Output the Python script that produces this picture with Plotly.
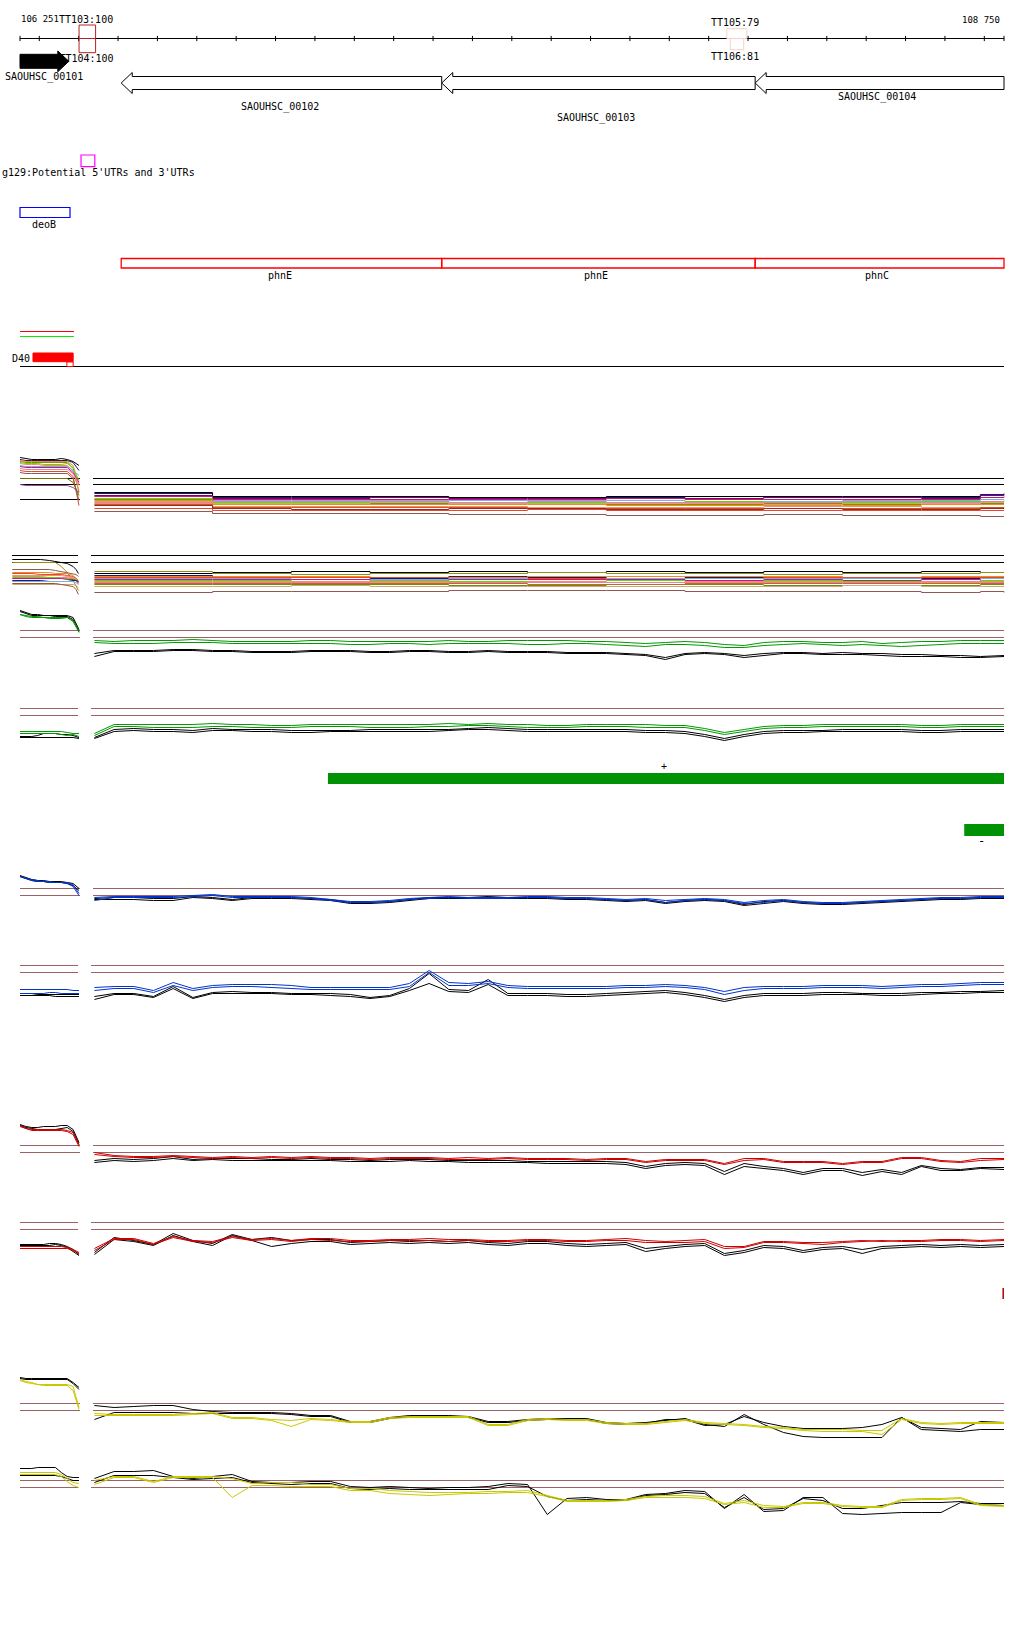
import plotly.graph_objects as go

W, H = 1024, 1640
FONT = "DejaVu Sans Mono"

# ---------------- genome view ----------------
VIEW_START = 106251
VIEW_END = 108750
TICKS = [106251] + list(range(106300, 108701, 100)) + [108750]
START_LABEL = "106 251"
END_LABEL = "108 750"

GENE_NAMES = ["SAOUHSC_00101", "SAOUHSC_00102", "SAOUHSC_00103", "SAOUHSC_00104"]
GENE_START = [106251, 106508, 107322, 108118]
GENE_END = [106375, 107322, 108118, 108750]
GENE_STRAND = ["+", "-", "-", "-"]
GENE_LABEL_POS = [106313, 106911, 107714, 108427]
GENE_LABEL_ROW = [77, 107, 118, 97]

TERM_NAMES = ["TT103:100", "TT104:100", "TT105:79", "TT106:81"]
TERM_START = [106401, 106401, 108046, 108055]
TERM_END = [106443, 106443, 108097, 108089]
TERM_COLORS = ["#b22222", "#b22222", "#f5d2c6", "#f5d2c6"]

UTR_LABEL = "g129:Potential 5'UTRs and 3'UTRs"
UTR_START, UTR_END = 106406, 106441

OPERON_NAME = "deoB"
OPERON_START, OPERON_END = 106251, 106378

PHN_NAMES = ["phnE", "phnE", "phnC"]
PHN_START = [106508, 107322, 108118]
PHN_END = [107322, 108118, 108750]
PHN_LABEL_POS = [106911, 107714, 108427]

SHORT_LINE_START, SHORT_LINE_END = 106251, 106388
D40_LABEL = "D40"
D40_START, D40_END = 106284, 106386
D40_BOX_START = 106370

PLUS_START, PLUS_END = 107033, 108750
MINUS_START, MINUS_END = 108649, 108750
MARK_POS = 108748

# ---------------- expression tracks ----------------
MAIN_POS = list(range(106440, 108701, 50)) + [108750]
COARSE_POS = [106440, 106740, 106940, 107140, 107340, 107540, 107740, 107940,
              108140, 108340, 108540, 108690, 108750]
LEFT_POS = list(range(11))
LEFT_POS_P2 = [-1.3, 0.5, 2, 3.5, 5, 6, 7, 8, 9, 9.5, 9.9]

P1_MAIN_COLORS = ["#1a1a70", "#000000", "#800080", "#c8187c", "#6ab4e8", "#66d800",
                  "#8c8c00", "#f08c1e", "#c8aa78", "#f07ca0", "#f0906c", "#c05c20",
                  "#e04830", "#8c5a50", "#a82020"]
P1_MAIN = [
    [27, 23, 23, 23, 23, 23, 23, 24, 23, 23, 23, 26, 27],
    [28, 24, 24, 24, 23, 23, 24, 24, 24, 24, 24, 25, 25],
    [25, 22, 22, 23, 22, 22, 22, 22, 23, 23, 22, 25, 26],
    [24, 21, 21, 21, 21, 21, 22, 21, 21, 21, 21, 23, 24],
    [21, 20, 20, 20, 20, 20, 20, 19, 19, 20, 20, 21, 21],
    [22, 18, 18, 19, 18, 18, 18, 19, 18, 18, 19, 19, 20],
    [21, 17, 17, 17, 17, 17, 16, 16, 17, 16, 16, 17, 17],
    [20, 16, 16, 16, 16, 16, 15, 15, 15, 15, 16, 16, 16],
    [19, 17, 17, 18, 17, 17, 17, 17, 16, 17, 17, 18, 18],
    [18, 19, 19, 19, 18, 19, 18, 18, 18, 19, 18, 19, 19],
    [17, 14, 14, 14, 14, 13, 13, 13, 14, 14, 13, 13, 14],
    [16, 13, 13, 13, 13, 12, 12, 12, 12, 12, 12, 13, 13],
    [12, 10, 10, 10, 10, 11, 10, 10, 10, 10, 10, 10, 10],
    [9, 7, 7, 7, 6, 6, 5, 5, 6, 5, 5, 4, 4],
    [15, 12, 11, 11, 12, 12, 11, 11, 12, 11, 11, 12, 12],
]
P1_LEFT_COLORS = ["#000000", "#1a1a70", "#f08c1e", "#8c8c00", "#66d800", "#f0906c",
                  "#6ab4e8", "#c8187c", "#f07ca0", "#e04830", "#8c5a50", "#a040a0", "#707000"]
P1_LEFT = [
    [63, 62, 61, 61, 61, 61, 61, 62, 61, 59, 55],
    [61, 60, 60, 60, 60, 60, 60, 60, 60, 58, 50],
    [60, 59, 59, 59, 59, 59, 59, 59, 59, 55, 35],
    [59, 58, 58, 58, 58, 58, 58, 58, 58, 52, 28],
    [58, 57, 57, 57, 56, 56, 56, 56, 57, 53, 40],
    [57, 56, 56, 56, 55, 55, 55, 55, 55, 50, 30],
    [55, 54, 54, 54, 54, 54, 54, 54, 54, 50, 45],
    [54, 53, 53, 53, 53, 53, 53, 53, 53, 48, 38],
    [52, 51, 51, 51, 51, 51, 51, 51, 51, 47, 36],
    [50, 49, 49, 49, 49, 49, 49, 49, 49, 44, 15],
    [48, 47, 47, 47, 47, 47, 47, 47, 47, 42, 20],
    [36, 35, 35, 35, 35, 35, 35, 35, 35, 33, 28],
    [42, 42, 42, 42, 42, 42, 42, 42, 42, 38, 25],
]
P1_THRESH = [42, 36]
P1_LEFT_THRESH = [42, 36, 21]

P2_MAIN_COLORS = ["#000000", "#9a8a10", "#1a1a70", "#f08c1e", "#e04830", "#6ab4e8",
                  "#c8187c", "#66d800", "#f0906c", "#f07ca0", "#7a8a00", "#b86a30",
                  "#c8aa78", "#8c5a50"]
P2_MAIN = [
    [27, 28, 29, 28, 29, 28, 29, 28, 29, 28, 29, 28, 28],
    [29, 27, 26, 27, 27, 28, 27, 27, 26, 27, 27, 28, 28],
    [25, 23, 23, 22, 24, 23, 22, 23, 22, 22, 22, 23, 23],
    [24, 24, 24, 23, 23, 24, 24, 24, 24, 23, 24, 24, 24],
    [23, 23, 23, 23, 22, 22, 22, 22, 23, 23, 23, 23, 23],
    [22, 22, 21, 21, 22, 21, 22, 22, 22, 22, 21, 22, 22],
    [21, 21, 21, 20, 21, 21, 21, 20, 21, 20, 21, 20, 20],
    [20, 20, 19, 20, 19, 19, 20, 19, 20, 19, 19, 20, 20],
    [19, 19, 19, 18, 18, 19, 18, 18, 19, 18, 18, 19, 19],
    [18, 18, 18, 19, 18, 18, 18, 19, 18, 18, 19, 18, 18],
    [16, 16, 16, 16, 15, 15, 16, 16, 15, 15, 15, 16, 16],
    [17, 17, 17, 17, 17, 16, 16, 17, 17, 17, 17, 17, 17],
    [14, 14, 15, 14, 14, 14, 14, 14, 14, 15, 14, 14, 14],
    [8, 9, 9, 9, 10, 10, 10, 9, 9, 9, 8, 9, 8],
]
P2_LEFT_COLORS = ["#000000", "#9a8a10", "#8c5a50", "#f08c1e", "#e04830", "#f0906c",
                  "#f07ca0", "#66d800", "#c8187c", "#1a1a70", "#6ab4e8", "#c8aa78", "#a0522d"]
P2_LEFT = [
    [41, 41, 41, 41, 40, 39, 38, 37, 34, 31, 27],
    [38, 38, 38, 38, 38, 38, 34, 28, 20, 14, 10],
    [31, 31, 31, 31, 31, 30, 29, 28, 27, 26, 24],
    [28, 28, 28, 28, 28, 27, 27, 27, 25, 22, 18],
    [27, 27, 27, 26, 26, 26, 26, 25, 24, 22, 20],
    [25, 25, 25, 25, 25, 25, 25, 24, 23, 20, 16],
    [24, 24, 24, 24, 23, 23, 23, 23, 22, 20, 17],
    [23, 23, 23, 23, 23, 23, 22, 22, 22, 21, 19],
    [22, 22, 22, 22, 22, 22, 22, 21, 21, 20, 18],
    [20, 20, 20, 20, 19, 19, 19, 19, 20, 20, 19],
    [19, 19, 19, 19, 19, 19, 19, 19, 19, 18, 16],
    [16, 16, 16, 16, 16, 16, 16, 16, 16, 15, 13],
    [17, 17, 17, 17, 17, 17, 16, 15, 14, 11, 6],
]
P2_THRESH = [45, 38]

# green pair of tracks
P3_THRESH = [40, 33]
P3_LEFT_G1 = [56, 55, 54, 54, 53, 53, 53, 53, 53, 50, 40]
P3_LEFT_G2 = [56, 54, 53, 53, 53, 52, 52, 52, 53, 49, 38]
P3_LEFT_B1 = [60, 58, 56, 56, 55, 55, 55, 55, 55, 53, 41]
P3_LEFT_B2 = [59, 57, 55, 55, 55, 55, 54, 54, 54, 51, 39]
P3_G1 = [30, 29, 30, 30, 30, 31, 30, 29, 29, 29, 29, 30, 30, 29, 29, 29, 29, 29, 30, 29,
         29, 30, 30, 30, 30, 29, 29, 28, 27, 28, 29, 28, 26, 25, 28, 29, 29, 28, 28, 29,
         27, 28, 29, 29, 30, 30, 30]
P3_G2 = [28, 27, 27, 27, 28, 28, 28, 27, 27, 27, 27, 27, 27, 26, 26, 27, 27, 26, 27, 27,
         27, 27, 26, 26, 27, 27, 26, 25, 24, 26, 26, 25, 23, 23, 25, 26, 27, 26, 25, 26,
         25, 24, 25, 26, 27, 27, 27]
P3_B1 = [17, 20, 20, 20, 21, 21, 20, 20, 19, 19, 19, 20, 20, 20, 19, 19, 20, 20, 19, 19,
         20, 19, 19, 19, 18, 18, 18, 17, 16, 13, 17, 18, 17, 15, 17, 18, 18, 17, 18, 17,
         17, 16, 16, 15, 15, 14, 15]
P3_B2 = [14, 19, 19, 19, 20, 20, 19, 19, 18, 18, 18, 19, 19, 19, 18, 18, 19, 19, 18, 18,
         19, 18, 18, 18, 17, 17, 17, 16, 15, 11, 16, 17, 16, 13, 15, 17, 17, 16, 16, 16,
         15, 14, 14, 14, 13, 13, 14]

P4_THRESH = [42, 35]
P4_LEFT_G1 = [19, 19, 19, 19, 19, 19, 19, 19, 18, 17, 17]
P4_LEFT_G2 = [17, 17, 17, 17, 17, 17, 17, 16, 15, 16, 14]
P4_LEFT_B1 = [14, 14, 14, 15, 17, 17, 17, 16, 16, 15, 13]
P4_LEFT_B2 = [13, 13, 13, 13, 13, 13, 13, 13, 13, 13, 12]
P4_G1 = [17, 26, 26, 26, 26, 26, 27, 26, 26, 25, 25, 26, 26, 26, 26, 26, 26, 26, 27, 26,
         27, 26, 26, 25, 25, 26, 26, 26, 26, 25, 25, 22, 18, 21, 24, 25, 25, 26, 26, 26,
         26, 26, 25, 25, 26, 26, 26]
P4_G2 = [15, 24, 24, 23, 23, 23, 24, 24, 23, 23, 23, 24, 24, 24, 23, 23, 23, 24, 24, 25,
         25, 24, 23, 23, 23, 24, 24, 24, 23, 23, 23, 20, 16, 19, 22, 23, 23, 24, 24, 24,
         24, 24, 23, 23, 24, 24, 24]
P4_B1 = [13, 21, 22, 21, 21, 20, 22, 21, 21, 21, 20, 20, 20, 20, 21, 21, 21, 21, 21, 22,
         23, 22, 21, 21, 21, 21, 21, 21, 20, 20, 19, 16, 12, 16, 19, 20, 20, 20, 21, 21,
         21, 21, 20, 20, 21, 21, 21]
P4_B2 = [12, 19, 20, 19, 19, 18, 20, 20, 19, 19, 18, 18, 19, 19, 19, 19, 19, 19, 20, 21,
         21, 20, 19, 19, 19, 19, 19, 19, 18, 18, 17, 14, 10, 14, 17, 18, 18, 19, 19, 19,
         19, 19, 18, 18, 19, 19, 19]

# blue pair of tracks
P5_THRESH = [27, 20]
P5_LEFT_C1 = [39, 37, 36, 35, 34, 34, 33, 33, 33, 31, 22]
P5_LEFT_C2 = [39, 37, 35, 34, 34, 33, 33, 33, 32, 29, 20]
P5_LEFT_B1 = [40, 38, 36, 35, 35, 34, 34, 34, 33, 32, 27]
P5_LEFT_B2 = [39, 37, 35, 34, 34, 33, 33, 33, 32, 30, 25]
P5_C1 = [18, 19, 19, 19, 19, 20, 21, 19, 19, 19, 19, 18, 16, 14, 14, 15, 17, 18, 19, 18,
         18, 18, 19, 19, 18, 18, 17, 16, 17, 15, 16, 17, 16, 13, 15, 16, 14, 13, 13, 14,
         15, 16, 17, 18, 18, 19, 19]
P5_C2 = [15, 18, 18, 18, 18, 19, 20, 18, 18, 18, 18, 17, 15, 13, 13, 14, 16, 17, 18, 17,
         17, 17, 18, 18, 17, 17, 16, 15, 16, 13, 15, 16, 15, 12, 13, 15, 13, 12, 12, 13,
         14, 15, 16, 17, 17, 18, 18]
P5_B1 = [17, 18, 18, 17, 17, 19, 18, 16, 18, 18, 18, 17, 16, 13, 13, 14, 16, 18, 18, 18,
         19, 18, 18, 18, 17, 17, 16, 15, 16, 13, 15, 16, 15, 11, 14, 15, 13, 12, 12, 13,
         14, 15, 16, 17, 17, 18, 18]
P5_B2 = [16, 16, 16, 15, 15, 18, 17, 15, 17, 17, 17, 16, 15, 12, 12, 13, 15, 17, 17, 17,
         18, 17, 17, 17, 16, 16, 15, 14, 15, 12, 14, 15, 14, 10, 12, 14, 12, 11, 11, 12,
         13, 14, 15, 16, 16, 17, 17]

P6_THRESH = [45, 38]
P6_LEFT_C1 = [21, 21, 21, 21, 21, 21, 21, 21, 21, 20, 20]
P6_LEFT_C2 = [17, 17, 17, 17, 17, 18, 18, 17, 17, 17, 17]
P6_LEFT_B1 = [17, 17, 17, 16, 16, 16, 16, 16, 16, 16, 16]
P6_LEFT_B2 = [15, 15, 15, 15, 15, 15, 14, 14, 14, 14, 14]
P6_C1 = [23, 24, 24, 20, 28, 22, 25, 26, 26, 26, 25, 23, 23, 23, 23, 23, 27, 40, 28, 27,
         29, 25, 24, 24, 24, 24, 24, 25, 25, 26, 25, 23, 19, 23, 24, 24, 24, 25, 25, 25,
         24, 25, 26, 26, 27, 28, 28]
P6_C2 = [20, 22, 22, 18, 25, 20, 23, 24, 24, 23, 22, 21, 21, 21, 21, 21, 24, 38, 25, 25,
         27, 23, 22, 22, 22, 22, 22, 23, 23, 24, 23, 21, 16, 20, 22, 22, 22, 23, 23, 23,
         22, 23, 24, 24, 25, 26, 26]
P6_B1 = [14, 17, 17, 14, 24, 13, 18, 19, 18, 18, 17, 17, 17, 16, 13, 15, 22, 37, 21, 20,
         31, 17, 17, 17, 16, 16, 17, 18, 19, 20, 18, 15, 11, 15, 17, 17, 17, 18, 18, 17,
         17, 17, 18, 18, 19, 19, 20]
P6_B2 = [11, 16, 16, 13, 22, 12, 17, 17, 17, 17, 16, 16, 15, 14, 12, 14, 20, 27, 19, 18,
         26, 15, 15, 15, 14, 14, 15, 16, 17, 18, 16, 13, 9, 13, 15, 15, 15, 16, 16, 16,
         15, 15, 16, 17, 17, 18, 18]

# red pair of tracks
P7_THRESH = [30, 23]
P7_LEFT_C1 = [50, 47, 46, 46, 46, 46, 46, 46, 45, 43, 31]
P7_LEFT_C2 = [49, 47, 45, 45, 45, 45, 45, 45, 44, 41, 29]
P7_LEFT_B1 = [51, 49, 48, 48, 49, 49, 49, 50, 50, 46, 33]
P7_LEFT_B2 = [50, 48, 47, 46, 45, 45, 46, 47, 48, 44, 31]
P7_C1 = [23, 20, 19, 19, 20, 19, 18, 19, 18, 19, 18, 19, 18, 18, 17, 18, 18, 18, 17, 18,
         17, 18, 17, 17, 17, 16, 17, 17, 14, 16, 16, 16, 12, 17, 17, 14, 14, 14, 12, 14,
         14, 18, 18, 15, 14, 17, 17]
P7_C2 = [21, 19, 18, 18, 19, 18, 17, 18, 17, 18, 17, 18, 17, 17, 16, 17, 17, 17, 16, 16,
         16, 17, 16, 16, 16, 15, 16, 16, 13, 15, 15, 15, 11, 15, 16, 13, 13, 13, 11, 13,
         13, 17, 17, 14, 13, 15, 16]
P7_B1 = [15, 17, 16, 17, 19, 16, 17, 17, 17, 16, 16, 17, 16, 16, 15, 16, 16, 16, 15, 15,
         15, 15, 14, 14, 14, 14, 14, 13, 9, 12, 13, 12, 4, 12, 9, 7, 3, 7, 7, 3,
         6, 3, 10, 7, 6, 8, 8]
P7_B2 = [13, 15, 14, 15, 17, 15, 16, 15, 15, 15, 15, 15, 15, 14, 14, 14, 15, 14, 14, 13,
         13, 13, 13, 12, 12, 12, 12, 11, 7, 10, 11, 10, 1, 9, 7, 5, 1, 5, 5, 0,
         4, 1, 9, 5, 5, 7, 6]

P8_THRESH = [43, 36]
P8_LEFT_C1 = [19, 19, 19, 19, 19, 19, 19, 19, 18, 16, 13]
P8_LEFT_C2 = [17, 17, 17, 17, 17, 17, 17, 17, 17, 15, 12]
P8_LEFT_B1 = [21, 21, 21, 21, 21, 22, 22, 21, 19, 16, 11]
P8_LEFT_B2 = [20, 20, 20, 20, 20, 20, 21, 20, 18, 14, 10]
P8_C1 = [17, 27, 27, 22, 29, 25, 24, 29, 26, 27, 25, 27, 27, 25, 25, 26, 26, 27, 26, 26,
         25, 25, 26, 26, 25, 25, 26, 27, 25, 24, 25, 26, 19, 19, 24, 24, 23, 23, 24, 25,
         24, 25, 25, 26, 26, 25, 26]
P8_C2 = [15, 26, 26, 21, 28, 24, 23, 28, 25, 26, 24, 26, 25, 24, 24, 25, 25, 25, 24, 25,
         24, 24, 25, 25, 24, 24, 25, 25, 23, 23, 23, 24, 17, 18, 23, 23, 22, 21, 23, 24,
         25, 24, 24, 25, 25, 24, 25]
P8_B1 = [13, 28, 25, 21, 32, 25, 22, 31, 26, 28, 25, 26, 26, 23, 24, 25, 24, 25, 24, 25,
         23, 22, 24, 24, 22, 21, 22, 23, 17, 19, 21, 22, 12, 15, 20, 19, 15, 18, 19, 16,
         19, 20, 21, 20, 21, 20, 21]
P8_B2 = [11, 26, 24, 20, 30, 24, 20, 30, 25, 19, 22, 24, 24, 21, 22, 23, 22, 23, 22, 23,
         21, 20, 22, 22, 20, 19, 20, 21, 14, 17, 19, 20, 10, 13, 18, 17, 13, 16, 17, 12,
         17, 18, 19, 18, 19, 18, 19]

# yellow pair of tracks
P9_THRESH = [42, 35]
P9_LEFT_C1 = [66, 64, 63, 61, 61, 61, 61, 61, 61, 59, 38]
P9_LEFT_C2 = [65, 63, 62, 61, 60, 60, 60, 60, 60, 55, 36]
P9_LEFT_B1 = [68, 67, 67, 67, 67, 67, 67, 67, 67, 63, 58]
P9_LEFT_B2 = [67, 66, 66, 66, 66, 66, 66, 66, 66, 62, 56]
P9_C1 = [32, 31, 31, 31, 31, 32, 33, 28, 28, 26, 25, 27, 26, 24, 24, 28, 29, 29, 29, 29,
         21, 21, 26, 27, 26, 26, 23, 22, 22, 24, 26, 23, 22, 21, 19, 18, 16, 16, 16, 15,
         15, 27, 23, 22, 23, 23, 23]
P9_C2 = [30, 30, 30, 30, 30, 31, 32, 27, 27, 25, 19, 26, 25, 23, 23, 27, 28, 28, 28, 28,
         20, 20, 25, 26, 25, 25, 22, 21, 21, 23, 25, 22, 21, 20, 18, 17, 15, 14, 14, 14,
         11, 26, 22, 21, 22, 22, 22]
P9_B1 = [40, 38, 39, 40, 40, 36, 34, 33, 33, 33, 32, 30, 30, 24, 24, 28, 30, 30, 30, 29,
         24, 24, 26, 27, 27, 27, 23, 22, 23, 25, 27, 21, 19, 31, 21, 13, 9, 8, 8, 8,
         8, 28, 16, 15, 14, 16, 16]
P9_B2 = [26, 33, 33, 33, 33, 32, 32, 32, 32, 32, 31, 29, 29, 23, 23, 27, 29, 29, 29, 28,
         23, 23, 25, 26, 26, 26, 22, 21, 22, 26, 26, 20, 21, 29, 23, 19, 17, 17, 17, 18,
         21, 28, 18, 17, 16, 24, 23]

P10_THRESH = [45, 38]
P10_LEFT_C1 = [53, 53, 53, 53, 53, 53, 53, 51, 47, 43, 42]
P10_LEFT_C2 = [51, 51, 51, 51, 51, 51, 51, 49, 44, 40, 38]
P10_LEFT_B1 = [57, 57, 57, 58, 58, 58, 58, 53, 49, 48, 48]
P10_LEFT_B2 = [50, 50, 50, 50, 50, 50, 50, 49, 47, 45, 45]
P10_C1 = [45, 49, 49, 44, 49, 49, 49, 47, 42, 43, 43, 41, 41, 37, 37, 35, 34, 33, 33, 33,
          34, 34, 35, 30, 25, 25, 25, 26, 29, 30, 30, 29, 22, 25, 20, 19, 23, 23, 20, 19,
          19, 26, 27, 27, 28, 21, 20]
P10_C2 = [41, 48, 48, 43, 48, 48, 48, 28, 40, 40, 39, 39, 39, 35, 35, 32, 31, 30, 31, 32,
          32, 33, 33, 29, 24, 24, 24, 25, 28, 28, 28, 27, 21, 23, 18, 18, 22, 22, 19, 18,
          18, 25, 26, 26, 27, 20, 19]
P10_B1 = [47, 54, 54, 55, 49, 47, 49, 51, 44, 43, 43, 44, 44, 39, 38, 39, 38, 37, 38, 38,
          39, 42, 41, 11, 27, 28, 26, 26, 31, 32, 35, 34, 17, 31, 14, 15, 28, 28, 12, 11,
          12, 13, 13, 13, 23, 21, 20]
P10_B2 = [43, 50, 50, 50, 48, 46, 47, 48, 43, 42, 41, 42, 42, 37, 36, 37, 36, 36, 36, 36,
          36, 40, 39, 29, 25, 26, 25, 25, 30, 31, 33, 32, 18, 28, 16, 17, 27, 25, 17, 17,
          20, 23, 23, 23, 24, 22, 22]

GREEN, BLUE, RED, YELLOW = "#009900", "#0033cc", "#cc0000", "#c8c800"
THRESH_BROWN = "#9a6262"

# ---------------- layout helpers ----------------
PX_L, PX_R = 20, 1004
BP_PER_PX = (VIEW_END - VIEW_START) / (PX_R - PX_L)
X_RANGE = [VIEW_START - PX_L * BP_PER_PX, VIEW_END + (W - PX_R) * BP_PER_PX]
MAIN_START_A = VIEW_START + 73 * BP_PER_PX   # odd tracks start
MAIN_START_B = VIEW_START + 71 * BP_PER_PX   # even tracks start

fig = go.Figure()
shapes, annotations = [], []
layout_axes = {}


def txt(x, y, s, anchor="center", size=10, color="black"):
    annotations.append(dict(x=x, y=y, xref="x", yref="y", text=s, showarrow=False,
                            xanchor=anchor, yanchor="middle",
                            font=dict(family=FONT, size=size, color=color)))


def rect(x0, x1, y0, y1, color, fill="rgba(0,0,0,0)", width=1):
    shapes.append(dict(type="rect", xref="x", yref="y", x0=x0, x1=x1, y0=y0, y1=y1,
                       line=dict(color=color, width=width), fillcolor=fill, layer="above"))


def hline(x0, x1, y, color, width=1):
    fig.add_trace(go.Scatter(x=[x0, x1], y=[y, y], mode="lines",
                             line=dict(color=color, width=width), hoverinfo="skip"))


# ruler
AXIS_ROW = 38.5
ax_x, ax_y = [VIEW_START, VIEW_END, None], [AXIS_ROW, AXIS_ROW, None]
for t in TICKS:
    ax_x += [t, t, None]
    ax_y += [AXIS_ROW - 2.6, AXIS_ROW + 2.6, None]
fig.add_trace(go.Scatter(x=ax_x, y=ax_y, mode="lines", line=dict(color="black", width=1),
                         hoverinfo="skip"))
txt(VIEW_START - 1 * BP_PER_PX, 19, START_LABEL, anchor="left", size=9)
txt(VIEW_END - 2 * BP_PER_PX, 20, END_LABEL, anchor="right", size=9)

# terminators
TERM_ROWS = [(25, AXIS_ROW), (AXIS_ROW, 52.7), (28.7, AXIS_ROW), (AXIS_ROW, 49.7)]
for (y0, y1), s, e, c in zip(TERM_ROWS, TERM_START, TERM_END, TERM_COLORS):
    rect(s, e, y0, y1, c)
txt(106345, 19, TERM_NAMES[0], anchor="left")
txt(108067, 22, TERM_NAMES[2])
txt(108068, 56, TERM_NAMES[3])
fig.add_trace(go.Scatter(x=[106351], y=[59], mode="text", text=[TERM_NAMES[1]],
                         textposition="middle right",
                         textfont=dict(family=FONT, size=10, color="black"), hoverinfo="skip"))

# genes
HEAD = 28
for name, s, e, strand, lx, ly in zip(GENE_NAMES, GENE_START, GENE_END, GENE_STRAND,
                                      GENE_LABEL_POS, GENE_LABEL_ROW):
    if strand == "+":
        tb, bb, th, bh = 54.3, 68.3, 51.0, 71.7
        mid = (tb + bb) / 2
        xs = [s, e - HEAD, e - HEAD, e, e - HEAD, e - HEAD, s, s]
        ys = [tb, tb, th, mid, bh, bb, bb, tb]
        fig.add_trace(go.Scatter(x=xs, y=ys, mode="lines", fill="toself",
                                 fillcolor="black", line=dict(color="black", width=1),
                                 hoverinfo="skip"))
    else:
        tb, bb, th, bh = 76.5, 89.5, 72.5, 93.5
        mid = (tb + bb) / 2
        xs = [s, s + HEAD, s + HEAD, e, e, s + HEAD, s + HEAD, s]
        ys = [mid, th, tb, tb, bb, bb, bh, mid]
        fig.add_trace(go.Scatter(x=xs, y=ys, mode="lines", fill="toself",
                                 fillcolor="white", line=dict(color="black", width=1),
                                 hoverinfo="skip"))
    txt(lx, ly, name)

# UTR track
rect(UTR_START, UTR_END, 155, 166.7, "#ff00ff", width=1.2)
annotations.append(dict(x=0, y=172, xref="paper", yref="y", text=UTR_LABEL,
                        showarrow=False, xanchor="left", yanchor="middle",
                        font=dict(family=FONT, size=10, color="black")))

# operon
rect(OPERON_START, OPERON_END, 207.5, 217.5, "#0000ff", width=1.2)
txt(106313, 224.3, OPERON_NAME)

# phn boxes
for n, s, e, lx in zip(PHN_NAMES, PHN_START, PHN_END, PHN_LABEL_POS):
    rect(s, e, 258.5, 268, "#ff0000", width=1.3)
    txt(lx, 275.7, n)

# short red / green lines
hline(SHORT_LINE_START, SHORT_LINE_END, 331.5, "#ff0000")
hline(SHORT_LINE_START, SHORT_LINE_END, 336.5, "#00ee00")

# D40
rect(D40_START, D40_END, 353, 361.7, "#ff0000", fill="#ff0000")
rect(D40_BOX_START, D40_END, 362, 366.5, "#ff0000", fill="white")
txt(D40_START - 0.5 * BP_PER_PX, 358, D40_LABEL, anchor="right")
hline(VIEW_START, VIEW_END, 366.5, "black")

# strand bars
rect(PLUS_START, PLUS_END, 773, 784, "#009105", fill="#009105", width=0)
txt(107886, 766, "+")
rect(MINUS_START, MINUS_END, 824, 836, "#009105", fill="#009105", width=0)
txt(108694, 841, "-", size=12)
fig.add_trace(go.Scatter(x=[MARK_POS, MARK_POS], y=[1288, 1299], mode="lines",
                         line=dict(color="#b00000", width=1.5), hoverinfo="skip"))

# ---------------- expression panels ----------------
axis_counter = [2]


def new_axis(T, B):
    k = axis_counter[0] + 1
    axis_counter[0] = k
    layout_axes[f"yaxis{k}"] = dict(domain=[1 - (B + 5.5) / H, 1 - (T + 0.5) / H],
                                    range=[-5, B - T], visible=False, fixedrange=True)
    return f"y{k}"


def thresholds(yref, xref, x0, x1, vals, color):
    xs, ys = [], []
    for v in vals:
        xs += [x0, x1, None]
        ys += [v, v, None]
    fig.add_trace(go.Scatter(x=xs, y=ys, xaxis=xref, yaxis=yref, mode="lines",
                             line=dict(color=color, width=1), hoverinfo="skip"))


def series(yref, xref, xs, ys, color, shape="linear"):
    fig.add_trace(go.Scatter(x=xs, y=ys, xaxis=xref, yaxis=yref, mode="lines",
                             line=dict(color=color, width=1, shape=shape), hoverinfo="skip"))


# panel 1 (multi-colour)
ya = new_axis(445, 520)
thresholds(ya, "x", MAIN_START_A, VIEW_END, P1_THRESH, "black")
thresholds(ya, "x2", 0, 10.17, P1_LEFT_THRESH, "black")
for vals, c in zip(P1_MAIN, P1_MAIN_COLORS):
    series(ya, "x", COARSE_POS, vals, c, shape="hv")
for vals, c in zip(P1_LEFT, P1_LEFT_COLORS):
    series(ya, "x2", LEFT_POS, vals, c)

# panel 2 (multi-colour)
ya = new_axis(540, 600)
thresholds(ya, "x", MAIN_START_B, VIEW_END, P2_THRESH, "black")
thresholds(ya, "x2", -1.36, 9.83, P2_THRESH, "black")
for vals, c in zip(P2_MAIN, P2_MAIN_COLORS):
    series(ya, "x", COARSE_POS, vals, c, shape="hv")
for vals, c in zip(P2_LEFT, P2_LEFT_COLORS):
    series(ya, "x2", LEFT_POS_P2, vals, c)

PANELS = [
    (600, 670, GREEN, P3_THRESH, [P3_LEFT_B1, P3_LEFT_B2], [P3_LEFT_G1, P3_LEFT_G2],
     [P3_B1, P3_B2], [P3_G1, P3_G2], MAIN_START_A, 10.17),
    (700, 750, GREEN, P4_THRESH, [P4_LEFT_B1, P4_LEFT_B2], [P4_LEFT_G1, P4_LEFT_G2],
     [P4_B1, P4_B2], [P4_G1, P4_G2], MAIN_START_B, 9.83),
    (865, 915, BLUE, P5_THRESH, [P5_LEFT_B1, P5_LEFT_B2], [P5_LEFT_C1, P5_LEFT_C2],
     [P5_B1, P5_B2], [P5_C1, P5_C2], MAIN_START_A, 10.17),
    (955, 1010, BLUE, P6_THRESH, [P6_LEFT_B1, P6_LEFT_B2], [P6_LEFT_C1, P6_LEFT_C2],
     [P6_B1, P6_B2], [P6_C1, P6_C2], MAIN_START_B, 9.83),
    (1115, 1175, RED, P7_THRESH, [P7_LEFT_B1, P7_LEFT_B2], [P7_LEFT_C1, P7_LEFT_C2],
     [P7_B1, P7_B2], [P7_C1, P7_C2], MAIN_START_A, 10.17),
    (1215, 1265, RED, P8_THRESH, [P8_LEFT_B1, P8_LEFT_B2], [P8_LEFT_C1, P8_LEFT_C2],
     [P8_B1, P8_B2], [P8_C1, P8_C2], MAIN_START_B, 9.83),
    (1370, 1445, YELLOW, P9_THRESH, [P9_LEFT_B1, P9_LEFT_B2], [P9_LEFT_C1, P9_LEFT_C2],
     [P9_B1, P9_B2], [P9_C1, P9_C2], MAIN_START_A, 10.17),
    (1460, 1525, YELLOW, P10_THRESH, [P10_LEFT_B1, P10_LEFT_B2], [P10_LEFT_C1, P10_LEFT_C2],
     [P10_B1, P10_B2], [P10_C1, P10_C2], MAIN_START_B, 9.83),
]

for T, B, col, thr, lb, lc, mb, mc, mstart, lend in PANELS:
    ya = new_axis(T, B)
    thresholds(ya, "x", mstart, VIEW_END, thr, THRESH_BROWN)
    thresholds(ya, "x2", 0, lend, thr, THRESH_BROWN)
    for vals in lb:
        series(ya, "x2", LEFT_POS, vals, "black")
    for vals in lc:
        series(ya, "x2", LEFT_POS, vals, col)
    for vals in mb:
        series(ya, "x", MAIN_POS, vals, "black")
    for vals in mc:
        series(ya, "x", MAIN_POS, vals, col)

fig.update_layout(
    width=W, height=H, autosize=False,
    margin=dict(l=0, r=0, t=0, b=0, pad=0),
    paper_bgcolor="white", plot_bgcolor="white",
    showlegend=False,
    xaxis=dict(domain=[0, 1], range=X_RANGE, visible=False, fixedrange=True),
    xaxis2=dict(domain=[0, 80 / W], range=[-20 / 5.9, 60 / 5.9], visible=False,
                fixedrange=True, anchor="y"),
    yaxis=dict(domain=[0, 1], range=[H, 0], visible=False, fixedrange=True),
    shapes=shapes, annotations=annotations,
    **layout_axes,
)

fig.write_html(
    "out.html",
    config={"displayModeBar": False},
    post_script="document.body.style.margin='0px';document.body.style.overflow='hidden';",
)
